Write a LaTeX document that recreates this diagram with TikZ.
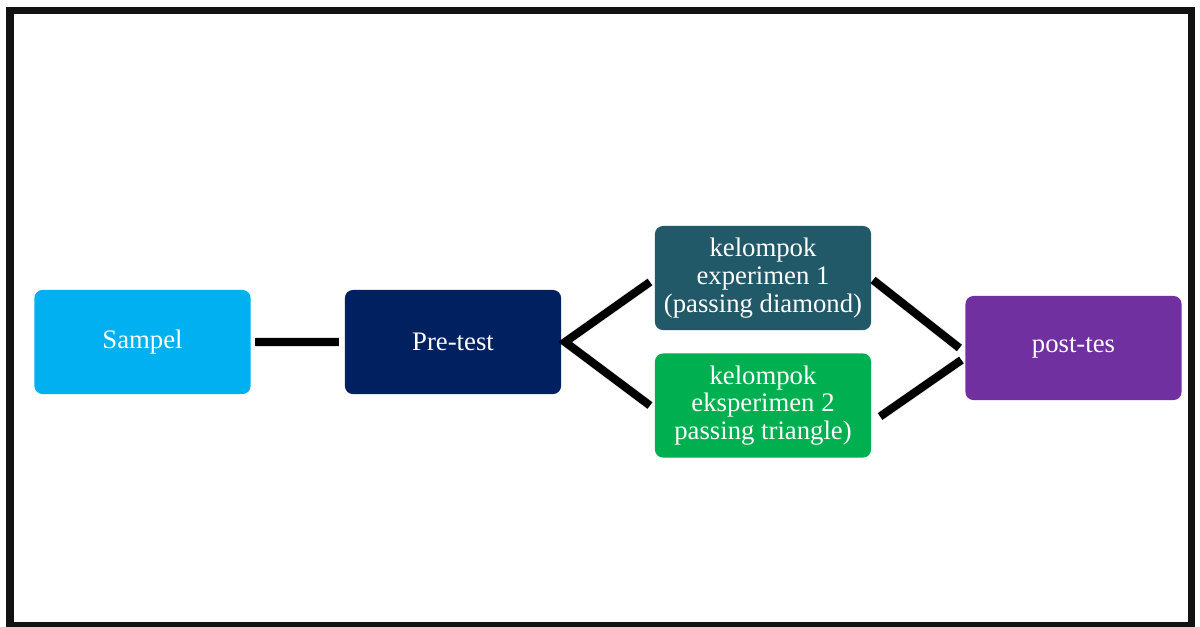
\documentclass[tikz,border=0pt]{standalone}
\usepackage{fontspec}
\setmainfont{Liberation Serif}
\usetikzlibrary{calc}
\definecolor{cSamp}{HTML}{00B0F0}
\definecolor{cPre}{HTML}{002060}
\definecolor{cExA}{HTML}{215968}
\definecolor{cExB}{HTML}{00B050}
\definecolor{cPost}{HTML}{7030A0}
\tikzset{
  box/.style={rounded corners=0.08cm, minimum width=2.16cm, minimum height=1.04cm,
    inner sep=0pt, outer sep=0pt, text=white, align=center,
    font=\fontsize{7.6}{7.9}\selectfont},
  conn/.style={line width=2.3pt, black},
  shad/.style={line width=2.6pt, black, opacity=0.12},
  frame/.style={line width=2pt, black!93}
}
\begin{document}
\begin{tikzpicture}[x=0.01cm,y=-0.01cm]
\useasboundingbox (0,0) rectangle (1200,626);
\draw[frame] (10,10.5) rectangle (1191.5,625);
\node[box, fill=cSamp] (s) at (142.5,342) {Sampel};
\node[box, fill=cPre] (p) at (453,342) {Pre-test};
\node[box, fill=cExA] (e1) at (763,278) {kelompok\\experimen 1\\(passing diamond)};
\node[box, fill=cExB] (e2) at (763,405.5) {kelompok\\eksperimen 2\\passing triangle)};
\node[box, fill=cPost] (t) at (1073.5,348) {post-tes};
% connector endpoints
\coordinate (s1) at ($(s.east)+(4,0)$);
\coordinate (p0) at ($(p.west)+(-6,0)$);
\coordinate (p1) at ($(p.east)+(4,0)$);
\coordinate (e1a) at ($(e1.west)+(-5,4)$);
\coordinate (e2a) at ($(e2.west)+(-5,0)$);
\coordinate (e1b) at ($(e1.east)+(2,2)$);
\coordinate (e2b) at ($(e2.east)+(9,11)$);
\coordinate (t1) at ($(t.west)+(-6,0)$);
\coordinate (t2) at ($(t.west)+(-4,12)$);
% shadows
\begin{scope}[shift={(2,6)}]
\draw[shad] (s1) -- (p0);
\draw[shad] (e1a) -- (p1) -- (e2a);
\draw[shad] (e1b) -- (t1);
\draw[shad] (e2b) -- (t2);
\end{scope}
% connectors
\draw[conn] (s1) -- (p0);
\draw[conn, line join=miter] (e1a) -- (p1) -- (e2a);
\draw[conn] (e1b) -- (t1);
\draw[conn] (e2b) -- (t2);
\end{tikzpicture}
\end{document}
